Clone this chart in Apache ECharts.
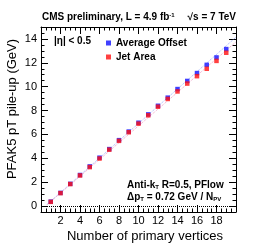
<!DOCTYPE html>
<html><head><meta charset="utf-8">
<script src="https://cdn.jsdelivr.net/npm/echarts@6/dist/echarts.min.js"></script>
<style>html,body{margin:0;padding:0;background:#fff}#c{width:255px;height:246px}</style>
</head><body><div id="c"></div>
<script>
var nVertices = [1,2,3,4,5,6,7,8,9,10,11,12,13,14,15,16,17,18,19];
var averageOffset = [0.37,1.10,1.86,2.60,3.32,4.05,4.77,5.52,6.24,6.98,7.68,8.40,9.08,9.80,10.48,11.14,11.83,12.45,13.15];
var jetArea = [0.35,1.08,1.84,2.56,3.26,3.98,4.72,5.46,6.18,6.90,7.60,8.32,8.97,9.60,10.26,10.88,11.50,12.16,12.84];
var fitX = [0.6, 20];
var fitOffsetY = [0.12, 14.15];
var fitAreaY = [0.10, 13.75];
var xTickLabels = [2,4,6,8,10,12,14,16,18];
var yTickLabels = [0,2,4,6,8,10,12,14];
var yMinorTicks = [];
for (var v = -0.5; v <= 15.001; v += 0.5) yMinorTicks.push(v);

function pairs(xs, ys){ return xs.map(function(x,i){ return [x, ys[i]]; }); }

var F = 'Liberation Sans, Arial, Helvetica, sans-serif';
var chart = echarts.init(document.getElementById('c'), null, {renderer:'canvas'});

function xAx(pos, labels){
  return {type:'value', min:0, max:20, interval:2, position:pos,
    axisLine:{show:true, onZero:false, lineStyle:{color:'#000', width:1}},
    axisTick:{show:true, inside:true, length:7, lineStyle:{color:'#000'}},
    minorTick:{show:true, splitNumber:4, length:3.5, lineStyle:{color:'#000'}},
    splitLine:{show:false}, minorSplitLine:{show:false},
    axisLabel:{show:labels, margin:3, fontSize:11, fontFamily:F, color:'#000',
      customValues: labels ? xTickLabels : undefined}
  };
}
function yAx(pos, major){
  return {type:'value', min:-0.5, max:15, position:pos, offset:0,
    axisLine:{show:major, onZero:false, lineStyle:{color:'#000', width:1}},
    axisTick:{show:true, inside:true, length: major?7:3.5, lineStyle:{color:'#000'},
      customValues: major ? yTickLabels : yMinorTicks},
    splitLine:{show:false},
    axisLabel:{show: major && pos==='left', margin:4, fontSize:11, fontFamily:F, color:'#000', customValues: yTickLabels}
  };
}

chart.setOption({
  animation:false,
  grid:{left:41, right:19, top:27, bottom:34, containLabel:false},
  xAxis:[xAx('bottom', true), xAx('top', false)],
  yAxis:[yAx('left', true), yAx('left', false), yAx('right', true), yAx('right', false)],
  legend:{show:true, orient:'vertical', left:101, top:33, itemGap:4, itemWidth:5, itemHeight:5,
    textStyle:{fontSize:10, fontWeight:'bold', fontFamily:F, color:'#000', padding:[0,0,0,0]},
    data:[{name:'Average Offset', icon:'rect'},{name:'Jet Area', icon:'rect'}]},
  series:[
    {name:'fitOffset', type:'line', data:pairs(fitX, fitOffsetY), symbol:'none', silent:true,
      lineStyle:{color:'#9fb0ff', width:1, type:'dotted'}, z:1},
    {name:'fitArea', type:'line', data:pairs(fitX, fitAreaY), symbol:'none', silent:true,
      lineStyle:{color:'#f0a0c8', width:1, type:'dotted'}, z:1,
      markLine:{silent:true, symbol:'none', label:{show:false}, data:[{yAxis:0}],
        lineStyle:{color:'#000', type:'dotted', width:1}}},
    {name:'Average Offset', type:'scatter', data:pairs(nVertices, averageOffset), symbol:'rect', symbolSize:4.5,
      itemStyle:{color:'#1010ff'}, z:3},
    {name:'Jet Area', type:'scatter', data:pairs(nVertices, jetArea), symbol:'rect', symbolSize:4.5,
      itemStyle:{color:'#ff1010'}, z:4}
  ],
  graphic:[
    {type:'text', left:42, top:12, style:{text:'{b|CMS preliminary, L = 4.9 fb}{s|-1}', fill:'#000',
      rich:{b:{fontSize:10, fontWeight:'bold', fontFamily:F}, s:{fontSize:6, fontWeight:'bold', fontFamily:F, padding:[0,0,5,0]}}}},
    {type:'text', right:19, top:12, style:{text:'√s = 7 TeV', font:'bold 10px '+F, fill:'#000'}},
    {type:'text', left:54, top:36, style:{text:'|η| < 0.5', font:'bold 10px '+F, fill:'#000'}},
    {type:'text', left:127, top:180, style:{text:'{b|Anti-k}{s|T}{b| R=0.5, PFlow}', fill:'#000',
      rich:{b:{fontSize:10, fontWeight:'bold', fontFamily:F}, s:{fontSize:6, fontWeight:'bold', fontFamily:F, padding:[5,0,0,0]}}}},
    {type:'text', left:127, top:192, style:{text:'{b|Δp}{s|T}{b| = 0.72 GeV / N}{s|PV}', fill:'#000',
      rich:{b:{fontSize:10, fontWeight:'bold', fontFamily:F}, s:{fontSize:6, fontWeight:'bold', fontFamily:F, padding:[5,0,0,0]}}}},
    {type:'text', x:12, y:109, rotation:Math.PI/2, style:{text:'PFAK5 pT pile-up (GeV)', font:'13px '+F, fill:'#000', align:'center', verticalAlign:'middle'}},
    {type:'text', x:145, y:236, style:{text:'Number of primary vertices', font:'13px '+F, fill:'#000', align:'center', verticalAlign:'middle'}}
  ]
});
</script></body></html>
